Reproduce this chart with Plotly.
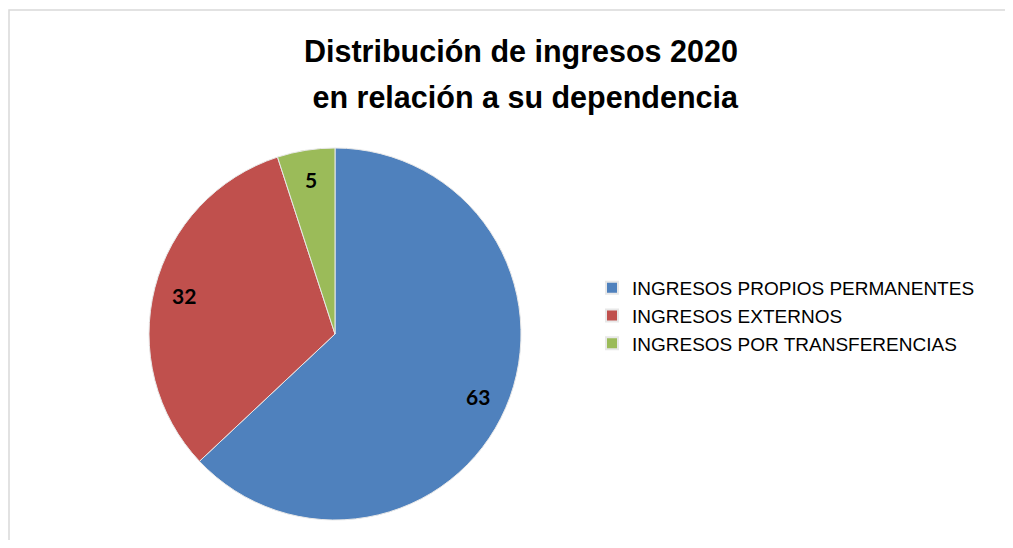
import math
import plotly.graph_objects as go

labels = ["INGRESOS PROPIOS PERMANENTES", "INGRESOS EXTERNOS", "INGRESOS POR TRANSFERENCIAS"]
values = [63, 32, 5]
colors = ["#4F81BD", "#C0504D", "#9BBB59"]
title_lines = ["Distribución de ingresos 2020", " en relación a su dependencia"]

# the page body keeps an 8px margin, so the figure is drawn 8px in from the window
W, H = 997, 532
sans = "Liberation Sans, Arial"

# pie position in figure pixels -> paper fractions
cx, cy, R = 327, 326, 186
dom_x = [(cx - R) / W, (cx + R) / W]
dom_y = [1 - (cy + R) / H, 1 - (cy - R) / H]

fig = go.Figure()
fig.add_trace(go.Pie(labels=labels, values=values, sort=False, direction="clockwise",
                     rotation=0, textinfo="none", hoverinfo="label+value",
                     marker=dict(colors=colors, line=dict(color="#e8e8e8", width=1)),
                     domain=dict(x=dom_x, y=dom_y)))

# data labels along each slice's mid angle, near the rim (Excel style)
total = sum(values)
cum = 0
for v in values:
    mid = (cum + v / 2) / total * 2 * math.pi
    cum += v
    px = cx + 0.84 * R * math.sin(mid)
    py = cy - 0.84 * R * math.cos(mid)
    fig.add_annotation(x=px / W, y=1 - py / H, xref="paper", yref="paper",
                       xanchor="center", yanchor="middle",
                       text="<b>%d</b>" % v, showarrow=False,
                       font=dict(family="Lato, Carlito, Calibri", size=21, color="#000000"))

# two-line title
for i, line in enumerate(title_lines):
    fig.add_annotation(x=513 / W, y=1 - (44 + 45 * i) / H, xref="paper", yref="paper",
                       xanchor="center", yanchor="middle", showarrow=False,
                       text="<b>%s</b>" % line,
                       font=dict(family=sans, size=30.5, color="#000000"))

fig.update_layout(
    width=W, height=H,
    paper_bgcolor="white", plot_bgcolor="white",
    margin=dict(l=0, r=0, t=0, b=0),
    legend=dict(x=584 / W, xanchor="left", y=1 - 308 / H, yanchor="middle",
                font=dict(family=sans, size=19, color="#000000"),
                itemsizing="constant", tracegroupgap=0),
    shapes=[dict(type="rect", xref="paper", yref="paper",
                 x0=0.001, x1=1.02, y0=-0.02, y1=1 - 2 / H,
                 line=dict(color="#d9d9d9", width=1.5), fillcolor="rgba(0,0,0,0)")],
)

fig.write_html("out.html")
